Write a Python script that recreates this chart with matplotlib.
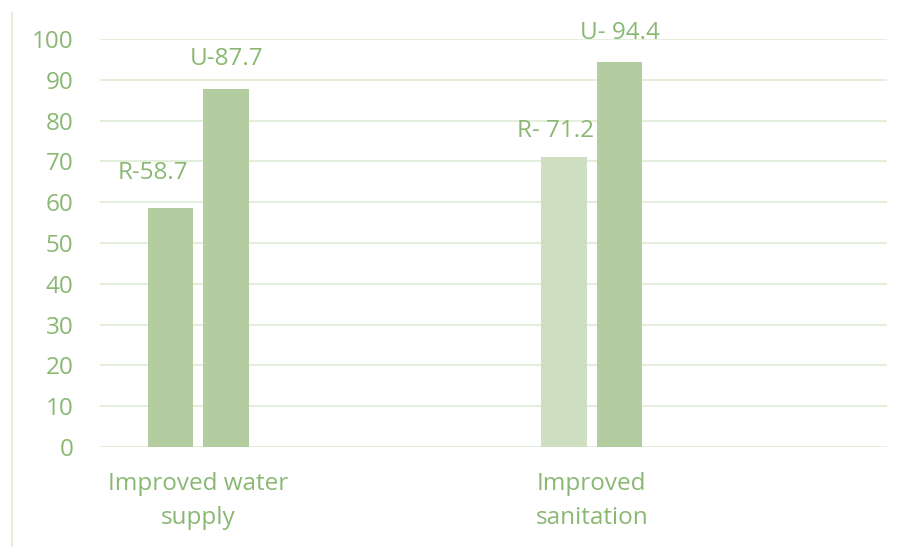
import numpy as np
from matplotlib import pyplot as plt
from matplotlib.lines import Line2D

# categories (two empty slots keep the Excel-style spacing)
categories = ["Improved water\nsupply", "", "Improved\nsanitation", ""]
rural = [58.7, np.nan, 71.2, np.nan]
urban = [87.7, np.nan, 94.4, np.nan]
rural_labels = ["R-58.7", "", "R- 71.2", ""]
urban_labels = ["U-87.7", "", "U- 94.4", ""]
yticks = [0, 10, 20, 30, 40, 50, 60, 70, 80, 90, 100]

txt_col = "#8ab873"
grid_col = "#e3eedb"
bar_col = "#b3cda0"
bar_light = "#cddfc0"
rural_cols = [bar_col, bar_col, bar_light, bar_light]
# hand placed label offsets (points)
rural_off = [(-12.6, 25), None, (-6, 18.4), None]
urban_off = [(0, 21.6), None, (0, 21), None]

plt.rcParams['font.family'] = ['Open Sans', 'DejaVu Sans']

fig = plt.figure(figsize=(9.12, 5.47), dpi=100)
ax = fig.add_axes([0.1096, 0.1828, 0.863, 0.7459])

x = np.arange(len(categories))
w = 0.23
ax.bar(x - 0.141, rural, w, color=rural_cols, zorder=2)
ax.bar(x + 0.141, urban, w, color=bar_col, zorder=2)

for i in range(len(categories)):
    if rural_labels[i]:
        ax.annotate(rural_labels[i], (x[i] - 0.141, rural[i]), xytext=rural_off[i],
                    textcoords="offset points", ha="center", va="center",
                    color=txt_col, fontsize=17.5)
    if urban_labels[i]:
        ax.annotate(urban_labels[i], (x[i] + 0.141, urban[i]), xytext=urban_off[i],
                    textcoords="offset points", ha="center", va="center",
                    color=txt_col, fontsize=17.5)

ax.set_xlim(-0.5, len(categories) - 0.5)
ax.set_ylim(0, 100)
ax.set_yticks(yticks)
ax.set_xticks(x)
ax.set_xticklabels(categories, fontsize=17.5, linespacing=1.55)
ax.grid(axis="y", color=grid_col, linewidth=1.5, zorder=0)
for s in ax.spines.values():
    s.set_visible(False)
ax.tick_params(length=0, colors=txt_col)
ax.tick_params(axis="y", pad=19, labelsize=17.5)
ax.tick_params(axis="x", pad=18)

# thin border line at the left edge of the picture
fig.add_artist(Line2D([0.013, 0.013], [0.0, 0.976], color=grid_col, linewidth=1.5))

fig.savefig("out.png")
